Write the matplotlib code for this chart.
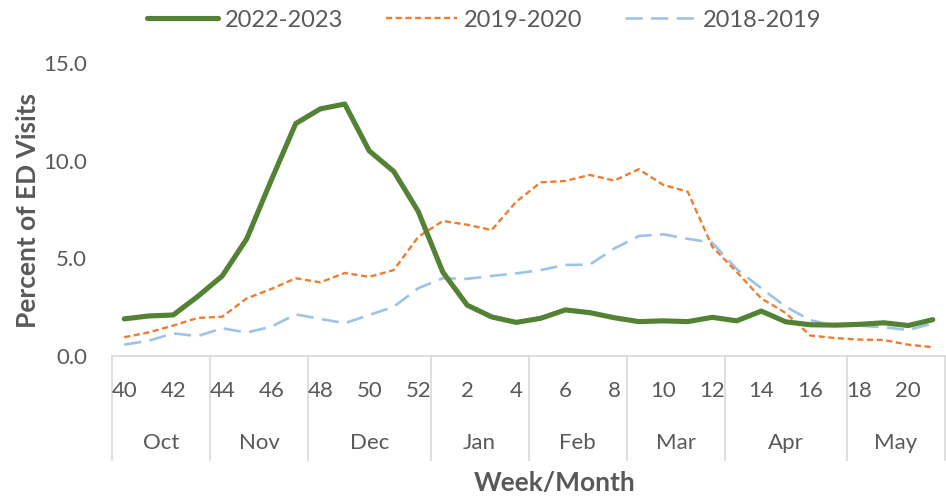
import matplotlib
matplotlib.use("Agg")
import matplotlib.pyplot as plt
from matplotlib.lines import Line2D

weeks = [40, 41, 42, 43, 44, 45, 46, 47, 48, 49, 50, 51, 52,
         1, 2, 3, 4, 5, 6, 7, 8, 9, 10, 11, 12,
         13, 14, 15, 16, 17, 18, 19, 20, 21]
months = ["Oct", "Nov", "Dec", "Jan", "Feb", "Mar", "Apr", "May"]
weeks_per_month = [4, 4, 5, 4, 4, 4, 5, 4]

s2022 = [1.9, 2.05, 2.1, 3.05, 4.1, 6.0, 9.0, 11.9, 12.65, 12.9, 10.5, 9.45, 7.4,
         4.3, 2.6, 2.0, 1.72, 1.93, 2.36, 2.22, 1.96, 1.76, 1.8, 1.76, 1.98,
         1.8, 2.3, 1.75, 1.6, 1.58, 1.62, 1.7, 1.56, 1.86]
s2019 = [0.96, 1.21, 1.56, 1.95, 2.01, 2.95, 3.43, 3.98, 3.77, 4.25, 4.05, 4.4, 6.1,
         6.91, 6.72, 6.45, 7.9, 8.89, 8.96, 9.27, 8.98, 9.56, 8.76, 8.41, 5.6,
         4.3, 2.95, 2.2, 1.05, 0.92, 0.84, 0.82, 0.58, 0.45]
s2018 = [0.58, 0.78, 1.16, 1.02, 1.42, 1.2, 1.5, 2.13, 1.9, 1.68, 2.1, 2.52, 3.47,
         3.98, 3.95, 4.1, 4.23, 4.4, 4.66, 4.68, 5.5, 6.14, 6.23, 6.0, 5.8,
         4.45, 3.47, 2.52, 1.84, 1.54, 1.55, 1.47, 1.33, 1.67]
series_names = ["2022-2023", "2019-2020", "2018-2019"]
yticks = [0.0, 5.0, 10.0, 15.0]

plt.rcParams['font.family'] = ['Lato', 'DejaVu Sans']
GRAY = "#595959"
LINEGRAY = "#D9D9D9"

fig = plt.figure(figsize=(9.46, 4.98), dpi=100)
W, H = 946, 498
ax_left, ax_right, ax_top, ax_bot = 112, 945, 63, 356
ax = fig.add_axes([ax_left / W, 1 - ax_bot / H, (ax_right - ax_left) / W, (ax_bot - ax_top) / H])

x = list(range(len(weeks)))
l1, = ax.plot(x, s2022, color="#548235", lw=3.7, solid_capstyle="round", solid_joinstyle="round", zorder=3)
l2, = ax.plot(x, s2019, color="#ED7D31", lw=1.7, linestyle=(0, (2.6, 1.5)), zorder=2)
l3, = ax.plot(x, s2018, color="#9DC3E6", lw=1.9, linestyle=(0, (6.5, 3.2)), zorder=1)

ax.set_xlim(-0.5, len(weeks) - 0.5)
ax.set_ylim(0, 15)
for s in ["top", "right", "left"]:
    ax.spines[s].set_visible(False)
ax.spines["bottom"].set_color(LINEGRAY)
ax.spines["bottom"].set_linewidth(1.2)

ax.set_yticks(yticks)
ax.set_yticklabels([f"{v:.1f}" for v in yticks], fontsize=16, color=GRAY)
ax.tick_params(axis="y", length=0, pad=18)
ax.set_xticks([])

trans = ax.get_xaxis_transform()
axh = ax_bot - ax_top
def yfrac(py):
    return (ax_bot - py) / axh

# week labels
for i, wk in enumerate(weeks):
    if i % 2 == 0:
        ax.text(i, yfrac(391), str(wk), transform=trans, ha="center", va="center",
                fontsize=16, color=GRAY, clip_on=False)

# month labels and separators
start = -0.5
bounds = [start]
for m, n in zip(months, weeks_per_month):
    end = start + n
    ax.text((start + end) / 2, yfrac(443), m, transform=trans, ha="center", va="center",
            fontsize=16, color=GRAY, clip_on=False)
    bounds.append(end)
    start = end
for b in bounds:
    ax.add_line(Line2D([b, b], [0, yfrac(460)], transform=trans, color=LINEGRAY,
                       lw=1.2, clip_on=False))

fig.text(555 / W, 1 - 483 / H, "Week/Month", ha="center", va="center",
         fontsize=19, fontweight="bold", color=GRAY)
fig.text(28 / W, 1 - 210 / H, "Percent of ED Visits", rotation=90, ha="center", va="center",
         fontsize=19, fontweight="bold", color=GRAY)

leg = fig.legend([l1, l2, l3], series_names, loc="center", bbox_to_anchor=(484 / W, 1 - 20 / H),
                 ncol=3, frameon=False, fontsize=17, labelcolor=GRAY, handlelength=3.0,
                 handletextpad=0.3, columnspacing=1.8)

fig.savefig("out.png", dpi=100)
